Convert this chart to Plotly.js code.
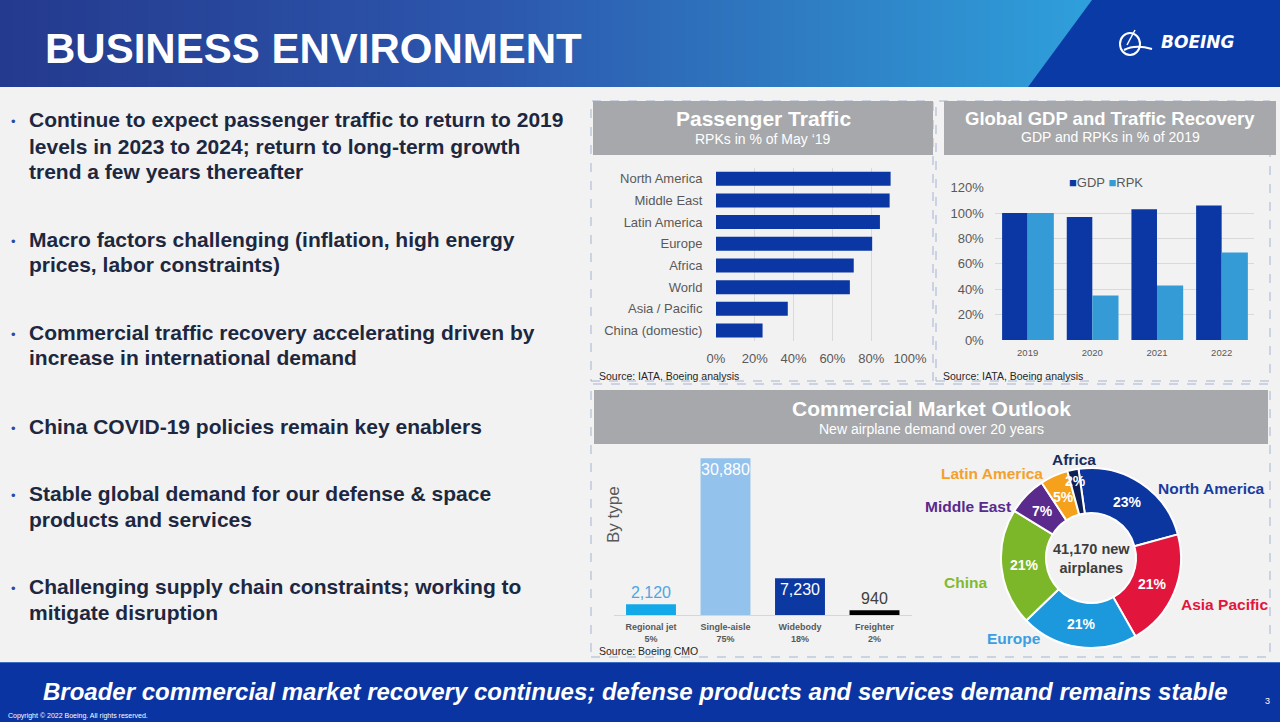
<!DOCTYPE html>
<html>
<head>
<meta charset="utf-8">
<script src="https://cdn.plot.ly/plotly-3.0.1.min.js"></script>
<style>
  html, body { margin: 0; padding: 0; background: #f2f2f2; }
  #chart { width: 1280px; height: 722px; }
</style>
</head>
<body>
<div id="chart"></div>
<script>
// ---------------- DATA ----------------
const paxRegions = ['North America', 'Middle East', 'Latin America', 'Europe', 'Africa', 'World', 'Asia / Pacific', 'China (domestic)'];
const paxRPK = [90, 89.5, 84.5, 80.5, 71, 69, 37, 24];
const pctTicks = [0, 20, 40, 60, 80, 100];

const recYears = ['2019', '2020', '2021', '2022'];
const seriesNames = ['GDP', 'RPK'];
const gdpPct = [100, 97, 103, 106];
const rpkPct = [100, 35, 43, 69];
const recTicks = [0, 20, 40, 60, 80, 100, 120];

const planeTypes = ['Regional jet', 'Single-aisle', 'Widebody', 'Freighter'];
const planeUnits = [2120, 30880, 7230, 940];
const planeShares = ['5%', '75%', '18%', '2%'];

const demandRegions = ['North America', 'Asia Pacific', 'Europe', 'China', 'Middle East', 'Latin America', 'Africa'];
const demandShare = [23, 21, 21, 21, 7, 5, 2];
const totalPlanes = '41,170';

const bullets = [
  ['Continue to expect passenger traffic to return to 2019', 'levels in 2023 to 2024; return to long-term growth', 'trend a few years thereafter'],
  ['Macro factors challenging (inflation, high energy', 'prices, labor constraints)'],
  ['Commercial traffic recovery accelerating driven by', 'increase in international demand'],
  ['China COVID-19 policies remain key enablers'],
  ['Stable global demand for our defense & space', 'products and services'],
  ['Challenging supply chain constraints; working to', 'mitigate disruption']
];

// ---------------- STYLE / LAYOUT HELPERS ----------------
const W = 1280, H = 722;
const px = x => x / W;
const py = y => 1 - y / H;
const FONT = 'Liberation Sans, Arial, Helvetica, sans-serif';
const DARKBLUE = '#0a37a3';
const LIGHTBLUE = '#349bd7';
const seriesColors = [DARKBLUE, LIGHTBLUE];
const GRID = '#d9d9d9';
const TICK = '#595959';

const bulletTop = [120, 239, 332, 426, 493, 586];
const lineGap = 26;

const typeColors = ['#13a8e8', '#93c2ec', '#0b38a1', '#000000'];
const typeTextColors = ['#4ea6e0', '#ffffff', '#ffffff', '#404040'];
const typeTextPos = ['outside', 'inside', 'inside', 'outside'];

const sliceColors = ['#0b36a0', '#e2163c', '#1c98dd', '#7cb72a', '#5a2a8c', '#f5a11b', '#0d1f57'];
const labelColors = ['#1a3c9f', '#e2163c', '#3a9ee0', '#82ba2e', '#5a2a8c', '#f3a12a', '#182a5e'];
const labelPos = [[1211, 488], [1224, 604], [1014, 638], [965, 582], [968, 506], [992, 473], [1074, 459]];
const pctRadius = [67, 67, 67, 67, 67, 67, 79];
const pie = { cx: 1091, cy: 558, r: 90, hole: 0.5, rot: -8 };

// ---------------- TRACES ----------------
const traces = [];

traces.push({
  type: 'bar', orientation: 'h',
  x: paxRPK, y: paxRegions,
  xaxis: 'x', yaxis: 'y',
  width: 0.645,
  marker: { color: DARKBLUE },
  showlegend: false, hoverinfo: 'skip'
});

[gdpPct, rpkPct].forEach((vals, i) => {
  traces.push({
    type: 'bar', name: seriesNames[i],
    x: recYears, y: vals,
    xaxis: 'x2', yaxis: 'y2',
    offset: i === 0 ? -0.395 : 0, width: i === 0 ? 0.395 : 0.405,
    marker: { color: seriesColors[i] },
    showlegend: false, hoverinfo: 'skip'
  });
});

traces.push({
  type: 'bar',
  x: planeTypes.map((t, i) => t + '<br>' + planeShares[i]),
  y: planeUnits,
  xaxis: 'x3', yaxis: 'y3',
  width: 0.67,
  marker: { color: typeColors },
  texttemplate: '%{y:,}',
  textposition: typeTextPos,
  insidetextanchor: 'end',
  textangle: 0,
  constraintext: 'none',
  cliponaxis: false,
  textfont: { family: FONT, size: 16, color: typeTextColors },
  showlegend: false, hoverinfo: 'skip'
});

traces.push({
  type: 'pie',
  labels: demandRegions, values: demandShare,
  sort: false, direction: 'clockwise', rotation: pie.rot,
  hole: pie.hole,
  domain: { x: [px(pie.cx - pie.r), px(pie.cx + pie.r)], y: [py(pie.cy + pie.r), py(pie.cy - pie.r)] },
  marker: { colors: sliceColors, line: { color: '#ffffff', width: 2 } },
  textinfo: 'none', showlegend: false, hoverinfo: 'skip'
});

// ---------------- SHAPES ----------------
const shapes = [];
function hex2rgb(h) { return [1, 3, 5].map(i => parseInt(h.substr(i, 2), 16)); }
const gradStops = [[0, '#243a8e'], [0.45, '#2c57ad'], [0.75, '#2f7fc4'], [1, '#2fa0dc']];
function gradColor(t) {
  for (let i = 0; i < gradStops.length - 1; i++) {
    const [t0, c0] = gradStops[i], [t1, c1] = gradStops[i + 1];
    if (t <= t1) {
      const f = (t - t0) / (t1 - t0), a = hex2rgb(c0), b = hex2rgb(c1);
      return 'rgb(' + a.map((v, k) => Math.round(v + (b[k] - v) * f)).join(',') + ')';
    }
  }
  return gradStops[gradStops.length - 1][1];
}
const NSTRIP = 90, GRADW = 1100;
for (let i = 0; i < NSTRIP; i++) {
  shapes.push({
    type: 'rect', xref: 'paper', yref: 'paper', layer: 'below',
    x0: px(i * GRADW / NSTRIP), x1: px((i + 1) * GRADW / NSTRIP + 1),
    y0: py(87), y1: py(0),
    fillcolor: gradColor(i / (NSTRIP - 1)), line: { width: 0 }
  });
}
shapes.push({
  type: 'path', xref: 'paper', yref: 'paper', layer: 'below',
  path: `M ${px(1092)} ${py(0)} L ${px(1280)} ${py(0)} L ${px(1280)} ${py(87)} L ${px(1028)} ${py(87)} Z`,
  fillcolor: '#0a3aa6', line: { width: 0 }
});
// Boeing symbol
shapes.push({
  type: 'circle', xref: 'paper', yref: 'paper', layer: 'above',
  x0: px(1120), x1: px(1140), y0: py(55), y1: py(33),
  line: { color: '#ffffff', width: 2 }, fillcolor: 'rgba(0,0,0,0)'
});
shapes.push({
  type: 'path', xref: 'paper', yref: 'paper', layer: 'above',
  path: `M ${px(1124)} ${py(50)} Q ${px(1135)} ${py(44)} ${px(1152)} ${py(49)}`,
  line: { color: '#ffffff', width: 2 }
});
shapes.push({
  type: 'path', xref: 'paper', yref: 'paper', layer: 'above',
  path: `M ${px(1135)} ${py(30)} L ${px(1127)} ${py(45)}`,
  line: { color: '#ffffff', width: 1.5 }
});

// dashed panel borders
[[591, 101, 933, 381], [936, 101, 1270, 381], [591, 384, 1270, 657]].forEach(b => {
  shapes.push({
    type: 'rect', xref: 'paper', yref: 'paper', layer: 'below',
    x0: px(b[0]), x1: px(b[2]), y0: py(b[3]), y1: py(b[1]),
    line: { color: '#a4b2d3', width: 1, dash: 'dash' }, fillcolor: 'rgba(0,0,0,0)'
  });
});
// gray panel headers
[[593, 101, 933, 155], [944, 101, 1276, 155], [594, 390, 1268, 444]].forEach(b => {
  shapes.push({
    type: 'rect', xref: 'paper', yref: 'paper', layer: 'below',
    x0: px(b[0]), x1: px(b[2]), y0: py(b[3]), y1: py(b[1]),
    fillcolor: '#a6a8ab', line: { width: 0 }
  });
});
// footer band
shapes.push({
  type: 'rect', xref: 'paper', yref: 'paper', layer: 'below',
  x0: 0, x1: 1, y0: 0, y1: py(662),
  fillcolor: '#0a34a2', line: { width: 0 }
});
shapes.push({
  type: 'line', xref: 'paper', yref: 'paper', layer: 'below',
  x0: 0, x1: 1, y0: py(662.5), y1: py(662.5),
  line: { color: '#3d6cc6', width: 1 }
});

// ---------------- ANNOTATIONS ----------------
const ann = [];
function txt(x, y, text, size, color, opts) {
  ann.push(Object.assign({
    xref: 'paper', yref: 'paper', x: px(x), y: py(y), text: text,
    showarrow: false, xanchor: 'center', yanchor: 'middle',
    font: { family: FONT, size: size, color: color }
  }, opts || {}));
}
const bold = (size, color, extra) => ({ font: Object.assign({ family: FONT, size: size, color: color, weight: 'bold' }, extra || {}) });

// Title & logo
txt(43, 48, 'BUSINESS ENVIRONMENT', 42, '#ffffff', Object.assign({ xanchor: 'left' }, bold(42, '#ffffff')));
txt(1198, 42, 'BOEING', 17, '#ffffff', { font: { family: 'DejaVu Sans, Liberation Sans, sans-serif', size: 17, color: '#ffffff', weight: 'bold', style: 'italic' } });

// Bullets
bullets.forEach((lines, bi) => {
  txt(13, bulletTop[bi] + 2, '•', 13, '#2a49a8');
  lines.forEach((ln, li) => {
    txt(27, bulletTop[bi] + li * lineGap, ln, 21, '#1d2840', Object.assign({ xanchor: 'left' }, bold(21, '#1d2840')));
  });
});

// Panel headers
txt(763, 119, 'Passenger Traffic', 21, '#ffffff', bold(21, '#ffffff'));
txt(763, 139, 'RPKs in % of May ‘19', 14, '#ffffff');
txt(1110, 118, 'Global GDP and Traffic Recovery', 18.5, '#ffffff', bold(18.5, '#ffffff'));
txt(1110, 137, 'GDP and RPKs in % of 2019', 14, '#ffffff');
txt(931, 408, 'Commercial Market Outlook', 21, '#ffffff', bold(21, '#ffffff'));
txt(931, 429, 'New airplane demand over 20 years', 14, '#ffffff');

// Legend for GDP / RPK chart (built from series names and colours)
txt(1106, 182, seriesNames.map((n, i) => `<span style="color:${seriesColors[i]}">■</span>${n}`).join(' '), 13, TICK);

// Sources
txt(597, 376, 'Source: IATA, Boeing analysis', 10.5, '#262626', { xanchor: 'left' });
txt(941, 376, 'Source: IATA, Boeing analysis', 10.5, '#262626', { xanchor: 'left' });
txt(597, 651, 'Source: Boeing CMO', 10.5, '#262626', { xanchor: 'left' });

// By type
txt(613, 515, 'By type', 17, TICK, { textangle: -90 });

// Donut labels
const tot = demandShare.reduce((a, b) => a + b, 0);
let cum = 0;
demandShare.forEach((v, i) => {
  const mid = (pie.rot + (cum + v / 2) / tot * 360) * Math.PI / 180;
  cum += v;
  const x = pie.cx + pctRadius[i] * Math.sin(mid);
  const y = pie.cy - pctRadius[i] * Math.cos(mid);
  txt(x, y, v + '%', 14, '#ffffff', bold(14, '#ffffff'));
  txt(labelPos[i][0], labelPos[i][1], demandRegions[i], 15.5, labelColors[i], bold(15.5, labelColors[i]));
});
txt(pie.cx, pie.cy, totalPlanes + ' new<br>airplanes', 14.5, '#3d3d3d', bold(14.5, '#3d3d3d'));

// Footer
txt(635, 691, 'Broader commercial market recovery continues; defense products and services demand remains stable', 24, '#ffffff',
  bold(24, '#ffffff', { style: 'italic' }));
txt(1267, 701, '3', 9, '#ffffff');
txt(6, 716, 'Copyright © 2022 Boeing. All rights reserved.', 7, '#ffffff', { xanchor: 'left' });

// ---------------- LAYOUT ----------------
const transparent = 'rgba(0,0,0,0)';
const layout = {
  width: W, height: H,
  margin: { l: 0, r: 0, t: 0, b: 0, pad: 0 },
  paper_bgcolor: '#f2f2f2', plot_bgcolor: transparent,
  font: { family: FONT, color: TICK },
  barmode: 'group',
  showlegend: false,
  xaxis: {
    domain: [px(716), px(910)], anchor: 'y', range: [0, 100],
    tickmode: 'array', tickvals: pctTicks, ticktext: pctTicks.map(v => v + '%'),
    showgrid: true, gridcolor: GRID, zeroline: false,
    showline: false, ticks: 'outside', ticklen: 5, tickcolor: transparent,
    tickfont: { family: FONT, size: 13, color: TICK }, fixedrange: true
  },
  yaxis: {
    domain: [py(341.35), py(167.85)], anchor: 'x', type: 'category',
    range: [paxRegions.length - 0.5, -0.5],
    showgrid: false, zeroline: false, showline: false,
    ticks: 'outside', ticklen: 10, tickcolor: transparent,
    tickfont: { family: FONT, size: 13, color: TICK }, fixedrange: true
  },
  xaxis2: {
    domain: [px(995.3), px(1254)], anchor: 'y2', type: 'category', range: [-0.5, recYears.length - 0.5],
    showgrid: false, zeroline: false, showline: false,
    ticks: 'outside', ticklen: 4, tickcolor: transparent,
    tickfont: { family: FONT, size: 9.5, color: TICK }, fixedrange: true
  },
  yaxis2: {
    domain: [py(340), py(187.7)], anchor: 'x2', range: [0, 120],
    tickmode: 'array', tickvals: recTicks, ticktext: recTicks.map(v => v + '%'),
    showgrid: true, gridcolor: GRID, zeroline: false, showline: false,
    ticks: 'outside', ticklen: 8, tickcolor: transparent,
    tickfont: { family: FONT, size: 13, color: TICK }, fixedrange: true
  },
  xaxis3: {
    domain: [px(613.75), px(911.75)], anchor: 'y3', type: 'category', range: [-0.5, planeTypes.length - 0.5],
    showgrid: false, zeroline: false, showline: true, linecolor: '#d6d6d6', linewidth: 1,
    ticks: 'outside', ticklen: 3, tickcolor: transparent,
    tickfont: { family: FONT, size: 9, color: TICK, weight: 'bold' }, fixedrange: true
  },
  yaxis3: {
    domain: [py(615), py(447.5)], anchor: 'x3', range: [0, 33000], visible: false, fixedrange: true
  },
  shapes: shapes,
  annotations: ann
};

Plotly.newPlot('chart', traces, layout, { staticPlot: true, displayModeBar: false });
</script>
</body>
</html>
